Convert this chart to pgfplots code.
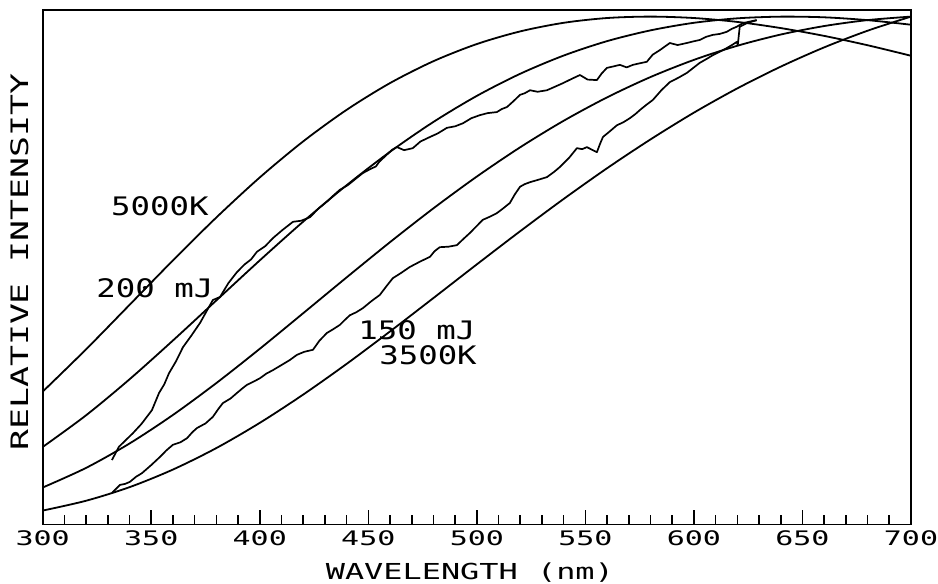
\documentclass[border=0pt]{standalone}
\usepackage{fontspec}
\usepackage{pgfplots}
\pgfplotsset{compat=1.18}
\newfontfamily\tickfam[FakeStretch=1.5]{DejaVu Sans Mono}
\newfontfamily\labfam[FakeStretch=1.27]{DejaVu Sans Mono}
\newfontfamily\axfam[FakeStretch=1.45]{DejaVu Sans Mono}
\begin{document}
\begin{tikzpicture}
\useasboundingbox (0,0) rectangle (938pt,584pt);
\begin{axis}[
  at={(42.7pt,59.5pt)}, anchor=south west,
  scale only axis, width=868.3pt, height=514.5pt,
  xmin=300, xmax=700, ymin=0, ymax=1.013,
  axis line style={line width=1.9pt},
  xtick={300,350,...,700},
  xticklabels={300,350,400,450,500,550,600,650,700},
  minor x tick num=4,
  ytick=\empty,
  xtick pos=bottom,
  tick align=inside,
  major tick length=15pt, minor tick length=10pt,
  tick style={line width=1.6pt, black},
  xticklabel style={font=\tickfam\fontsize{20}{24}\selectfont, anchor=north, inner sep=0pt, yshift=-6pt},
  every axis x label/.style={at={(axis description cs:0.5,0)}, anchor=base, xshift=-7pt, yshift=-55.5pt, font=\axfam\fontsize{22}{26}\selectfont},
  every axis y label/.style={at={(axis description cs:-0.0169,0.51)}, rotate=90, anchor=base, font=\axfam\fontsize{24}{28}\selectfont},
  xlabel={WAVELENGTH (nm)},
  ylabel={RELATIVE INTENSITY},
  ccurve/.style={black, line width=1.8pt, mark=none, smooth},
  ncurve/.style={black, line width=1.7pt, mark=none, line join=round},
]
% 5000 K
\addplot[ccurve] coordinates {
(300,0.2616)(320,0.3450)(340,0.4324)(360,0.5200)(380,0.6045)(400,0.6833)(420,0.7543)
(440,0.8164)(460,0.8691)(480,0.9122)(500,0.9460)(520,0.9709)(540,0.9878)(560,0.9972)
(580,1.0000)(600,0.9972)(620,0.9895)(640,0.9774)(660,0.9620)(680,0.9436)(700,0.9229)};
% 4500 K
\addplot[ccurve] coordinates {
(300,0.1526)(320,0.2151)(340,0.2859)(360,0.3623)(380,0.4412)(400,0.5200)(420,0.5963)
(440,0.6680)(460,0.7338)(480,0.7926)(500,0.8439)(520,0.8875)(540,0.9233)(560,0.9517)
(580,0.9729)(600,0.9878)(620,0.9966)(640,0.9999)(660,0.9986)(680,0.9930)(700,0.9840)};
% 4000 K
\addplot[ccurve] coordinates {
(300,0.0728)(320,0.1115)(340,0.1595)(360,0.2157)(380,0.2785)(400,0.3459)(420,0.4160)
(440,0.4865)(460,0.5559)(480,0.6225)(500,0.6851)(520,0.7428)(540,0.7949)(560,0.8410)
(580,0.8810)(600,0.9148)(620,0.9426)(640,0.9647)(660,0.9814)(680,0.9931)(700,1.0000)};
% 3500 K
\addplot[ccurve] coordinates {
(300,0.0274)(320,0.0468)(340,0.0735)(360,0.1082)(380,0.1505)(400,0.2001)(420,0.2558)
(440,0.3162)(460,0.3801)(480,0.4459)(500,0.5122)(520,0.5776)(540,0.6410)(560,0.7015)
(580,0.7582)(600,0.8109)(620,0.8587)(640,0.9015)(660,0.9394)(680,0.9722)(700,1.0000)};
% 200 mJ spectrum
\addplot[ncurve] coordinates {
(331.9,0.127)(335.1,0.153)(338.0,0.165)(341.6,0.180)(345.5,0.198)(350.3,0.225)(353.6,0.259)
(356.0,0.276)(358.2,0.298)(361.5,0.322)(364.6,0.349)(368.5,0.372)(372.5,0.397)(375.5,0.420)
(378.4,0.442)(381.7,0.448)(385.5,0.475)(389.5,0.497)(393.0,0.512)(396.0,0.522)(398.7,0.537)
(402.5,0.548)(406.1,0.564)(410.5,0.580)(415.3,0.596)(419.0,0.598)(423.1,0.605)(427.0,0.622)
(431.0,0.636)(434.0,0.648)(436.9,0.659)(440.5,0.668)(444.0,0.680)(447.5,0.692)(451.0,0.700)
(453.5,0.705)(455.0,0.714)(458.0,0.726)(461.0,0.738)(463.2,0.743)(466.5,0.737)(470.5,0.741)
(474.0,0.754)(478.4,0.763)(482.0,0.770)(486.2,0.781)(490.0,0.784)(493.6,0.790)(497.5,0.800)
(501.4,0.806)(505.0,0.810)(509.2,0.812)(511.5,0.818)(513.9,0.822)(517.0,0.834)(519.9,0.846)
(522.0,0.849)(524.5,0.855)(528.0,0.852)(532.3,0.855)(536.0,0.862)(539.7,0.869)(543.5,0.877)
(547.5,0.885)(551.0,0.876)(555.3,0.875)(557.5,0.888)(559.9,0.899)(563.0,0.902)(565.9,0.905)
(569.0,0.900)(571.9,0.905)(575.0,0.908)(578.3,0.911)(581.0,0.925)(584.3,0.934)(588.9,0.948)
(592.5,0.944)(596.7,0.948)(599.5,0.951)(602.7,0.954)(605.5,0.960)(608.7,0.964)(612.0,0.966)
(615.1,0.970)(617.5,0.976)(619.7,0.980)(622.5,0.987)(625.5,0.990)(628.9,0.993)};
% 150 mJ spectrum
\addplot[ncurve] coordinates {
(331.9,0.062)(335.6,0.078)(338.0,0.080)(340.2,0.084)(343.0,0.094)(345.7,0.101)(350.0,0.117)
(354.0,0.133)(357.0,0.146)(360.0,0.157)(363.5,0.162)(366.5,0.170)(369.0,0.182)(371.1,0.190)
(375.0,0.199)(378.4,0.212)(381.0,0.228)(383.0,0.239)(386.5,0.248)(389.5,0.259)(392.0,0.268)
(394.1,0.275)(397.0,0.281)(400.1,0.288)(403.0,0.297)(406.1,0.304)(410.0,0.314)(413.9,0.324)
(417.1,0.334)(420.5,0.340)(424.5,0.344)(427.5,0.362)(430.9,0.377)(434.0,0.385)(436.9,0.393)
(439.0,0.402)(441.5,0.412)(444.5,0.418)(447.5,0.426)(451.5,0.440)(455.3,0.452)(458.5,0.470)
(461.3,0.485)(465.0,0.495)(469.1,0.507)(474.0,0.518)(478.4,0.527)(480.5,0.538)(482.9,0.546)
(487.0,0.547)(490.8,0.550)(494.0,0.563)(496.8,0.574)(500.0,0.588)(502.8,0.600)(506.0,0.606)
(509.2,0.613)(512.0,0.622)(515.2,0.633)(517.5,0.650)(519.9,0.665)(522.0,0.670)(524.5,0.674)
(528.5,0.679)(532.3,0.684)(535.5,0.694)(538.3,0.704)(542.5,0.722)(546.1,0.741)(548.5,0.739)
(550.7,0.743)(553.0,0.738)(555.3,0.733)(556.8,0.750)(558.1,0.763)(561.5,0.775)(564.5,0.786)
(567.5,0.792)(570.5,0.800)(573.0,0.808)(575.1,0.816)(578.0,0.826)(581.1,0.836)(585.0,0.855)
(588.9,0.871)(593.0,0.880)(596.7,0.889)(600.0,0.900)(602.7,0.909)(606.0,0.917)(608.7,0.924)
(612.0,0.931)(615.1,0.938)(617.5,0.944)(619.7,0.950)(620.2,0.944)(621.1,0.980)(624.3,0.987)
(628.9,0.993)};
\node[font=\labfam\fontsize{25.5}{30}\selectfont, anchor=base, inner sep=0pt] at (axis cs:354.0,0.6074) {5000K};
\node[font=\labfam\fontsize{25.5}{30}\selectfont, anchor=base, inner sep=0pt] at (axis cs:351.7,0.446) {200 mJ};
\node[font=\labfam\fontsize{25.5}{30}\selectfont, anchor=base, inner sep=0pt] at (axis cs:472.4,0.3633) {150 mJ};
\node[font=\labfam\fontsize{25.5}{30}\selectfont, anchor=base, inner sep=0pt] at (axis cs:477.5,0.316) {3500K};
\end{axis}
\end{tikzpicture}
\end{document}
